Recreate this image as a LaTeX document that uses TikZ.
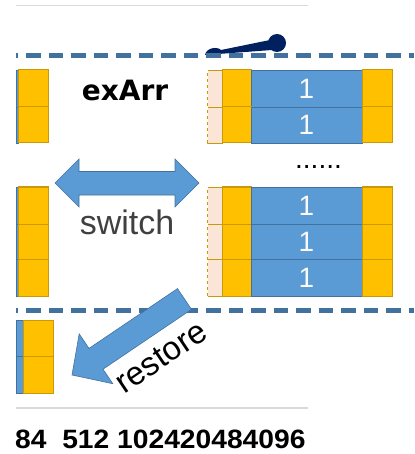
\documentclass[tikz,border=0pt]{standalone}
\usepackage{fontspec}
\setmainfont{Liberation Sans}
\newfontfamily\dejabold[BoldFont={DejaVu Sans Bold}]{DejaVu Sans}
\definecolor{cyel}{HTML}{FFC000}
\definecolor{cyelb}{HTML}{C99A06}
\definecolor{cblue}{HTML}{5B9BD5}
\definecolor{cblueb}{HTML}{41719C}
\definecolor{cpale}{HTML}{FBE5D6}
\definecolor{cdash}{HTML}{41719C}
\definecolor{cnavy}{HTML}{002060}
\definecolor{cgray}{HTML}{D9D9D9}
\definecolor{ctext}{HTML}{404040}
\newcommand\rightrow[3]{%
  \draw[pcell] (207,#2) rectangle (222,#3);
  \draw[white,line width=0.8pt,dash pattern=on 3pt off 3pt] (207.4,#2) -- (207.4,#3);
  \draw[ycell] (222,#2) rectangle (251,#3);
  \draw[bcell] (251,#2) rectangle (362,#3);
  \draw[ycell] (362,#2) rectangle (392,#3);
  \node[one] (#1) at (306.5,{(#2+#3)/2}) {1};}
\newcommand\leftcell[3]{%
  \draw[bcell] (16,#2) rectangle (#1,#3);
  \draw[ycell] (#1,#2) rectangle ({#1+30},#3);}
\begin{document}
\begin{tikzpicture}[x=1pt,y=-1pt,
  ycell/.style={fill=cyel,draw=cyelb,line width=1pt},
  bcell/.style={fill=cblue,draw=cblueb,line width=0.6pt},
  pcell/.style={fill=cpale,draw=cyelb,line width=0.8pt},
  sep/.style={draw=cdash,line width=4.5pt,dash pattern=on 14.5pt off 8pt,dash phase=12.5pt},
  rule/.style={draw=cgray,line width=1.5pt},
  bigarrow/.style={fill=cblue,draw=cblueb,line width=0.6pt},
  one/.style={text=white!95!gray,font=\fontsize{28}{28}\selectfont,inner sep=0pt}]
\useasboundingbox (0,0) rectangle (414,454);
% rules
\coordinate (r1a) at (16,5.5); \coordinate (r1b) at (308,5.5);
\coordinate (r2a) at (16,408); \coordinate (r2b) at (308,408);
\draw[rule] (r1a) -- (r1b);
\draw[rule] (r2a) -- (r2b);
% navy handle
\fill[cnavy] (205,55) .. controls (206,48) and (217,46) .. (221,50)
  -- (270,40) -- (272,50) -- (205,55) -- cycle;
\fill[cnavy] (277,43) circle (9);
% dashed separators
\coordinate (s1a) at (16,55.7); \coordinate (s1b) at (414,55.7);
\coordinate (s2a) at (16,310.5); \coordinate (s2b) at (414,310.5);
\draw[sep] (s1a) -- (s1b);
\draw[sep] (s2a) -- (s2b);
% left columns
\leftcell{18}{70}{107}
\leftcell{18}{107}{143}
\leftcell{18}{187}{224}
\leftcell{18}{224}{259.5}
\leftcell{18}{259.5}{296}
\leftcell{23}{320}{356}
\leftcell{23}{356}{393}
% right blocks
\rightrow{a1}{70}{107}
\rightrow{a2}{107}{143}
\rightrow{b1}{187}{224}
\rightrow{b2}{224}{259.5}
\rightrow{b3}{259.5}{296}
% texts
\node[font=\dejabold\bfseries\fontsize{28}{28}\selectfont,inner sep=0pt] (ex) at (125,90) {exArr};
\node[font=\fontsize{28}{28}\selectfont,inner sep=0pt,anchor=base] (dots) at (318.5,169) {......};
% switch arrow
\draw[bigarrow] (55,183) -- (79,159) -- (79,171.5) -- (175,171.5) -- (175,159) -- (199,183)
  -- (175,207) -- (175,195) -- (79,195) -- (79,207) -- cycle;
\node[font=\fontsize{34}{34}\selectfont,text=ctext,inner sep=0pt] (sw) at (127,222) {switch};
% restore arrow
\draw[bigarrow] (72,375) -- (79.2,333.9) -- (89.0,348.4) -- (177.5,288.6) -- (191.5,309.4)
  -- (103.0,369.2) -- (112.8,383.7) -- cycle;
\node[font=\fontsize{33}{33}\selectfont,inner sep=1pt,fill=white,rotate=34] (rs) at (161,357) {restore};
% bottom numbers
\node[font=\bfseries\fontsize{26.5}{26.5}\selectfont,inner sep=0pt,anchor=base west,xscale=1.065] (nums) at (15,448) {84\ \ 512 102420484096};
\end{tikzpicture}
\end{document}
